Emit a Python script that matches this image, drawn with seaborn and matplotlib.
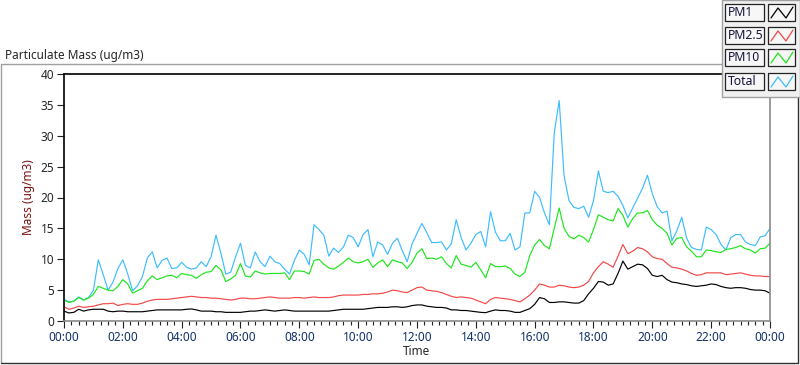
import numpy as np
import pandas as pd
import matplotlib
matplotlib.use("Agg")
import matplotlib.pyplot as plt
from matplotlib.patches import Rectangle
from matplotlib.lines import Line2D
from matplotlib.ticker import MultipleLocator
import seaborn as sns

# ---- data: one reading every 10 minutes over 24 h ----
minutes = np.arange(0, 24 * 60 + 1, 10)

total = [3.5, 3.1, 3.2, 3.9, 3.4, 3.8, 5.0, 9.9, 7.5, 5.0,
         6.3, 8.5, 9.9, 7.6, 4.9, 5.7, 7.2, 10.2, 11.2, 8.6,
         9.8, 10.2, 8.5, 8.6, 9.5, 8.7, 8.4, 8.6, 9.6, 8.8,
         10.4, 13.9, 11.0, 7.6, 7.9, 10.4, 12.6, 9.0, 8.6, 11.2,
         9.6, 8.8, 10.5, 9.6, 9.3, 8.4, 7.6, 9.8, 11.5, 10.8,
         9.1, 15.6, 14.8, 13.9, 10.5, 11.8, 11.1, 12.0, 13.9, 13.5,
         12.0, 14.0, 14.8, 10.4, 12.8, 12.3, 10.8, 12.6, 13.4, 11.4,
         9.6, 12.5, 14.2, 15.8, 14.3, 12.7, 12.7, 12.8, 11.5, 12.5,
         16.4, 13.5, 11.5, 12.6, 14.0, 14.5, 12.0, 17.7, 14.4, 13.0,
         13.0, 14.2, 11.5, 12.0, 17.5, 17.5, 21.0, 20.0, 17.5, 15.6,
         30.5, 35.7, 23.5, 19.5, 18.4, 18.2, 18.6, 16.8, 19.5, 24.3,
         21.0, 20.8, 21.0, 20.2, 18.7, 16.7, 18.3, 19.9, 21.5, 23.6,
         20.6, 18.5, 17.5, 17.8, 13.0, 14.6, 16.8, 13.4, 11.9, 11.6,
         11.5, 15.2, 14.8, 14.0, 12.4, 11.5, 13.5, 14.0, 14.0, 12.8,
         12.4, 12.2, 13.6, 13.8, 15.0]

pm10 = [3.4, 3.0, 3.2, 3.8, 3.4, 3.7, 4.3, 5.6, 5.3, 5.0,
        4.9, 5.6, 6.7, 6.0, 4.5, 4.9, 5.3, 6.5, 7.3, 6.7,
        7.0, 7.3, 7.4, 7.0, 7.7, 7.5, 7.4, 6.9, 7.5, 7.9,
        8.0, 9.0, 8.3, 6.4, 6.8, 7.4, 9.3, 7.3, 7.1, 8.1,
        7.8, 7.6, 7.7, 7.7, 7.7, 7.8, 6.7, 8.1, 8.1, 8.0,
        7.6, 9.8, 10.0, 9.2, 8.6, 8.4, 8.9, 9.5, 10.2, 9.6,
        9.4, 9.6, 10.0, 8.7, 9.4, 9.9, 8.8, 9.9, 9.6, 9.4,
        8.5, 9.5, 11.0, 11.7, 10.1, 10.2, 10.0, 10.4, 9.3, 8.6,
        10.6, 9.2, 9.0, 8.7, 9.5, 8.3, 7.0, 9.3, 8.8, 8.8,
        8.9, 8.5, 7.6, 7.2, 7.9, 10.6, 12.3, 13.2, 12.2, 11.7,
        15.0, 18.3, 15.0, 13.7, 13.3, 13.9, 13.5, 12.8, 14.8, 17.2,
        16.8, 16.4, 16.2, 18.2, 17.1, 15.2, 16.6, 17.5, 17.5, 17.9,
        16.4, 15.5, 15.0, 14.2, 12.3, 13.4, 13.5, 12.0, 11.3, 10.4,
        10.4, 11.5, 11.4, 11.2, 11.1, 11.6, 11.7, 11.9, 12.2, 11.7,
        11.5, 11.0, 11.7, 11.8, 12.6]

pm25 = [2.3, 1.9, 2.1, 2.4, 2.2, 2.3, 2.4, 2.6, 2.8, 2.8,
        2.9, 2.5, 2.7, 2.8, 2.7, 2.7, 2.9, 3.2, 3.4, 3.5,
        3.5, 3.5, 3.6, 3.7, 3.8, 3.9, 4.0, 3.9, 3.8, 3.8,
        3.7, 3.7, 3.6, 3.5, 3.4, 3.5, 3.7, 3.7, 3.6, 3.6,
        3.7, 3.8, 3.9, 3.8, 3.7, 3.7, 3.7, 3.8, 3.8, 3.7,
        3.8, 3.9, 3.8, 3.8, 3.8, 3.9, 4.1, 4.2, 4.2, 4.2,
        4.2, 4.3, 4.3, 4.4, 4.4, 4.5, 4.7, 5.0, 4.9, 4.7,
        4.6, 5.0, 5.4, 5.5, 5.0, 4.9, 4.8, 4.6, 4.3, 4.0,
        3.8, 3.9, 3.8, 3.7, 3.4, 3.1, 2.8, 3.5, 3.8, 3.7,
        3.6, 3.5, 3.3, 3.1, 3.6, 4.2, 5.0, 6.0, 5.8, 5.5,
        5.5, 5.8, 5.7, 5.5, 5.4, 5.5, 5.8, 6.4, 7.8, 8.8,
        9.6, 9.2, 8.7, 10.5, 12.4, 10.9, 11.3, 11.9, 11.7, 11.2,
        10.4, 10.1, 10.0, 9.3, 8.7, 8.6, 8.4, 8.1, 7.7, 7.4,
        7.5, 7.8, 7.8, 7.8, 7.8, 7.5, 7.6, 7.7, 7.8, 7.6,
        7.4, 7.3, 7.3, 7.2, 7.2]

pm1 = [1.6, 1.3, 1.4, 1.9, 1.6, 1.8, 1.9, 1.9, 1.9, 1.6,
       1.5, 1.6, 1.6, 1.5, 1.5, 1.5, 1.5, 1.6, 1.7, 1.8,
       1.8, 1.8, 1.8, 1.8, 1.8, 1.9, 1.95, 1.8, 1.6, 1.6,
       1.6, 1.5, 1.5, 1.4, 1.4, 1.4, 1.4, 1.5, 1.6, 1.6,
       1.7, 1.8, 1.7, 1.6, 1.7, 1.8, 1.7, 1.6, 1.6, 1.6,
       1.6, 1.6, 1.6, 1.6, 1.6, 1.7, 1.8, 1.9, 1.9, 1.9,
       1.9, 1.9, 2.0, 2.1, 2.2, 2.2, 2.2, 2.3, 2.3, 2.2,
       2.3, 2.5, 2.6, 2.6, 2.4, 2.3, 2.2, 2.2, 2.1, 1.8,
       1.8, 1.7, 1.7, 1.6, 1.5, 1.4, 1.35, 1.6, 1.8, 1.7,
       1.7, 1.6, 1.4, 1.4, 1.7, 2.0, 2.7, 3.8, 3.6, 3.0,
       3.0, 3.1, 3.1, 3.0, 2.9, 2.9, 3.3, 4.4, 5.3, 6.4,
       6.3, 5.8, 6.0, 7.7, 9.7, 8.4, 8.8, 9.2, 9.1, 8.5,
       7.4, 7.2, 7.4, 6.7, 6.3, 6.2, 6.0, 5.9, 5.7, 5.6,
       5.7, 5.8, 6.0, 5.9, 5.6, 5.4, 5.3, 5.4, 5.4, 5.3,
       5.1, 5.0, 5.0, 4.9, 4.5]

series_names = ["PM1", "PM2.5", "PM10", "Total"]
colors = {"PM1": "#000000", "PM2.5": "#f24848", "PM10": "#1ee61e", "Total": "#3dbdff"}
hour_ticks = list(range(0, 25, 2))
hour_labels = ["%02d:00" % (h % 24) for h in hour_ticks]
y_ticks = list(range(0, 41, 5))

df = pd.DataFrame({"hours": minutes / 60, "PM1": pm1, "PM2.5": pm25,
                   "PM10": pm10, "Total": total})
df = df.melt(id_vars="hours", var_name="series", value_name="mass")

# ---- figure ----
sns.set_style("white")
plt.rcParams["font.family"] = ["Noto Sans", "DejaVu Sans"]

W, H = 800, 365
fig = plt.figure(figsize=(W / 100, H / 100), dpi=100)


def fx(x):
    return x / W


def fy(y):
    return 1 - y / H


# outer chart frame
fig.add_artist(Line2D([fx(0.5), fx(0.5)], [fy(64), fy(363)], color="#a0a0a0", lw=1))
fig.add_artist(Line2D([fx(0.5), fx(722)], [fy(64), fy(64)], color="#a0a0a0", lw=1))
fig.add_artist(Line2D([fx(0.5), fx(798)], [fy(363), fy(363)], color="#303030", lw=1))
fig.add_artist(Line2D([fx(798), fx(798)], [fy(97), fy(363)], color="#303030", lw=1))

fig.text(fx(5), fy(55), "Particulate Mass (ug/m3)", fontsize=8.5, va="center", ha="left")

ax = fig.add_axes([fx(64), fy(321), fx(770 - 64), (321 - 74) / H])
sns.lineplot(data=df, x="hours", y="mass", hue="series",
             hue_order=["Total", "PM10", "PM2.5", "PM1"], palette=colors,
             estimator=None, linewidth=0.85, legend=False, ax=ax)

ax.set_xlim(0, 24)
ax.set_ylim(0, 40)
ax.set_xticks(hour_ticks)
ax.set_xticklabels(hour_labels)
ax.xaxis.set_minor_locator(MultipleLocator(0.25))
ax.set_yticks(y_ticks)
ax.tick_params(axis="both", which="major", direction="out", length=5, width=0.8,
               labelsize=8.5, color="#202020", pad=2, bottom=True, left=True)
ax.tick_params(axis="x", which="minor", direction="out", length=3, width=0.8,
               color="#202020", bottom=True)
for lab in ax.get_xticklabels():
    lab.set_color("#10306a")
ax.set_xlabel("Time", fontsize=8.5, labelpad=1)
ax.set_ylabel("Mass (ug/m3)", fontsize=8.5, color="#7a1010", labelpad=4)

ax.spines["top"].set_color("#000000")
ax.spines["left"].set_color("#000000")
ax.spines["bottom"].set_color("#8a8a8a")
ax.spines["right"].set_color("#8a8a8a")
for s in ax.spines.values():
    s.set_linewidth(1.2)

# ---- LabVIEW-style plot legend, top right ----
fig.add_artist(Rectangle((fx(722), fy(97)), fx(800 - 722), (97 - 0) / H,
                         facecolor="#f0f0f0", edgecolor="#a0a0a0", lw=1, zorder=5))
row_tops = [4, 27, 49, 73]
for name, top in zip(series_names, row_tops):
    fig.add_artist(Rectangle((fx(725), fy(top + 17)), fx(764 - 725), 17 / H,
                             facecolor="#f7f7f7", edgecolor="#222222", lw=0.9, zorder=6))
    fig.text(fx(728), fy(top + 8.5), name, fontsize=8.8, va="center", ha="left",
             color="#14143c", zorder=7)
    fig.add_artist(Rectangle((fx(768), fy(top + 17)), fx(795 - 768), 17 / H,
                             facecolor="#f7f7f7", edgecolor="#222222", lw=0.9, zorder=6))
    zx = [fx(771), fx(778), fx(786), fx(793)]
    zy = [fy(top + 14), fy(top + 4), fy(top + 14), fy(top + 3)]
    fig.add_artist(Line2D(zx, zy, color=colors[name], lw=0.9, zorder=7))

fig.savefig("out.png", dpi=100)
